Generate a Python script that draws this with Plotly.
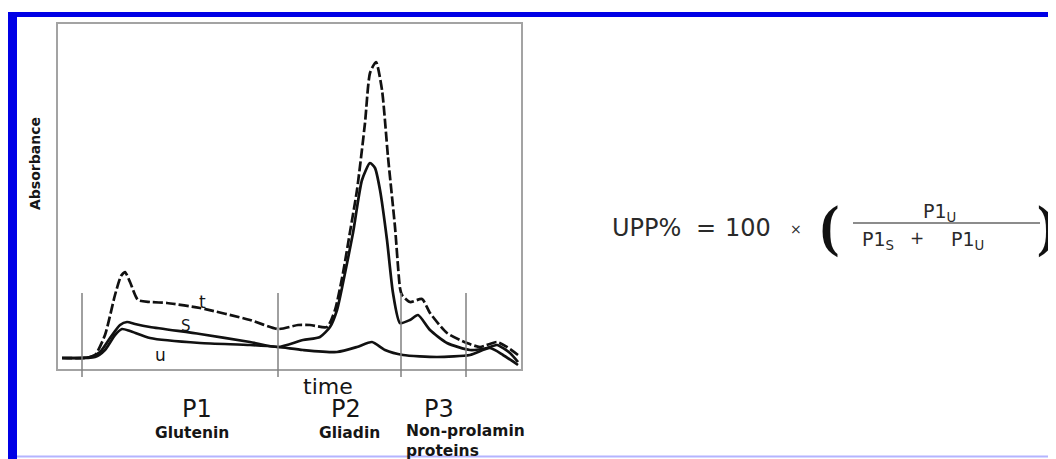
import plotly.graph_objects as go

# ---- data (arbitrary units) ----
t_time = [5, 28, 38, 48, 58, 64, 68, 73, 81, 93, 110, 143, 193, 221, 241, 253, 270, 278, 286, 293,
          300, 308, 313, 319, 325, 331, 338, 343, 345, 353, 365, 373, 390, 410, 423, 440, 450, 461]
t_abs = [12, 12, 15, 35, 75, 94, 98, 88, 70, 68, 67, 62, 50, 41, 45, 45, 43, 60, 97, 138,
         180, 247, 297, 308, 280, 213, 143, 82, 75, 68, 71, 57, 37, 27, 23, 28, 23, 15]

s_time = [5, 33, 43, 53, 63, 70, 78, 93, 143, 193, 221, 246, 263, 273, 280, 286, 296, 305, 313, 318,
          323, 330, 336, 343, 353, 361, 373, 390, 413, 430, 440, 453, 461]
s_abs = [12, 13, 18, 32, 45, 48, 46, 43, 36, 28, 23, 30, 33, 43, 60, 87, 137, 190, 207, 202,
         180, 130, 77, 47, 50, 55, 40, 27, 20, 22, 25, 17, 8]

u_time = [5, 38, 48, 58, 65, 73, 93, 143, 193, 221, 246, 280, 300, 315, 328, 346, 380, 413, 433, 446, 461]
u_abs = [12, 13, 20, 35, 41, 39, 32, 27, 25, 23, 20, 18, 23, 28, 20, 15, 13, 15, 22, 15, 5]

fraction_bounds = [25, 221, 344, 409]          # time positions of the P1/P2/P3 cut lines
bound_range = [-7, 77]

curve_labels = ["t", "S", "u"]
curve_label_pos = [(145, 68), (129, 44), (103, 15)]

peak_names = ["P1", "P2", "P3"]
protein_names = ["Glutenin", "Gliadin", "Non-prolamin<br>proteins"]

# page has an 8px body margin: the figure starts at screen (8, 8)
OFF = 8
W, H = 1056 - OFF, 459 - OFF
ML, MR, MT, MB = 55 - OFF, 532, 21 - OFF, 81


def px(x):
    """screen x pixel -> paper coordinate"""
    return (x - OFF - ML) / (W - ML - MR)


def py(y):
    """screen y pixel -> paper coordinate"""
    return (H - MB - (y - OFF)) / (H - MT - MB)


fig = go.Figure()

line_style = dict(color="#111111", width=2.7, shape="spline", smoothing=0.6)
fig.add_trace(go.Scatter(x=t_time, y=t_abs, mode="lines",
                         line=dict(line_style, dash="10px,3px")))
fig.add_trace(go.Scatter(x=s_time, y=s_abs, mode="lines", line=line_style))
fig.add_trace(go.Scatter(x=u_time, y=u_abs, mode="lines", line=line_style))

for b in fraction_bounds:
    fig.add_trace(go.Scatter(x=[b, b], y=bound_range, mode="lines",
                             line=dict(color="#808080", width=1.5)))

shapes = []
# plot frame
shapes.append(dict(type="rect", xref="x", yref="y", x0=0, x1=465, y0=0, y1=347,
                   line=dict(color="#a3a3a3", width=2), layer="below"))
# blue page border
shapes.append(dict(type="rect", xref="paper", yref="paper", x0=px(8), x1=px(17), y0=py(459), y1=py(12),
                   fillcolor="#0000e6", line=dict(width=0)))
shapes.append(dict(type="rect", xref="paper", yref="paper", x0=px(8), x1=px(1056), y0=py(17), y1=py(12),
                   fillcolor="#0000e6", line=dict(width=0)))
shapes.append(dict(type="line", xref="paper", yref="paper", x0=px(17), x1=px(1056), y0=py(456.5), y1=py(456.5),
                   line=dict(color="#b4b4ff", width=2)))
# fraction bar
shapes.append(dict(type="line", xref="paper", yref="paper", x0=px(853), x1=px(1040), y0=py(223), y1=py(223),
                   line=dict(color="#666666", width=1.5)))

FONT = "DejaVu Sans"
TXT = "#161616"
ann = []


def A(text, x, y, size, bold=False, xanchor="center", color=TXT, angle=0, family=FONT, align="center"):
    ann.append(dict(text=text, x=px(x), y=py(y), xref="paper", yref="paper", showarrow=False,
                    xanchor=xanchor, yanchor="middle", textangle=angle, align=align,
                    font=dict(family=family, size=size, color=color,
                              weight="bold" if bold else "normal")))


A("Absorbance", 35, 164, 14, bold=True, angle=-90)
A("time", 328, 387, 22)
for name, xc in zip(peak_names, [197, 346, 439]):
    A(name, xc, 409, 24)
A(protein_names[0], 192, 433, 15.5, bold=True)
A(protein_names[1], 349, 433, 15.5, bold=True)
A(protein_names[2], 404, 441, 15.5, bold=True, xanchor="left", align="left")

for lab, (lx, ly) in zip(curve_labels, curve_label_pos):
    ann.append(dict(text=lab, x=lx, y=ly, xref="x", yref="y", showarrow=False,
                    font=dict(family=FONT, size=17 if lab != "S" else 15, color=TXT)))

FC = "#2a2a2a"
A("UPP%", 646, 228, 24, color=FC)
A("=", 706, 228, 24, color=FC)
A("100", 748, 228, 24, color=FC)
A("×", 796, 229, 14, color=FC)
A("(", 829, 226, 58, bold=True, color="#111111", family="Liberation Serif")
A(")", 1046, 226, 58, bold=True, color="#111111", family="Liberation Serif")
A("P1<sub>U</sub>", 939, 212, 19, color=FC)
A("P1<sub>S</sub>", 878, 240, 19, color=FC)
A("+", 917, 238, 17, color=FC)
A("P1<sub>U</sub>", 967, 240, 19, color=FC)

fig.update_layout(
    width=W, height=H,
    margin=dict(l=ML, r=MR, t=MT, b=MB),
    paper_bgcolor="white", plot_bgcolor="white",
    showlegend=False,
    xaxis=dict(range=[-2, 467], visible=False, fixedrange=True),
    yaxis=dict(range=[-8, 349], visible=False, fixedrange=True),
    shapes=shapes,
    annotations=ann,
)

fig.write_html("out.html")
